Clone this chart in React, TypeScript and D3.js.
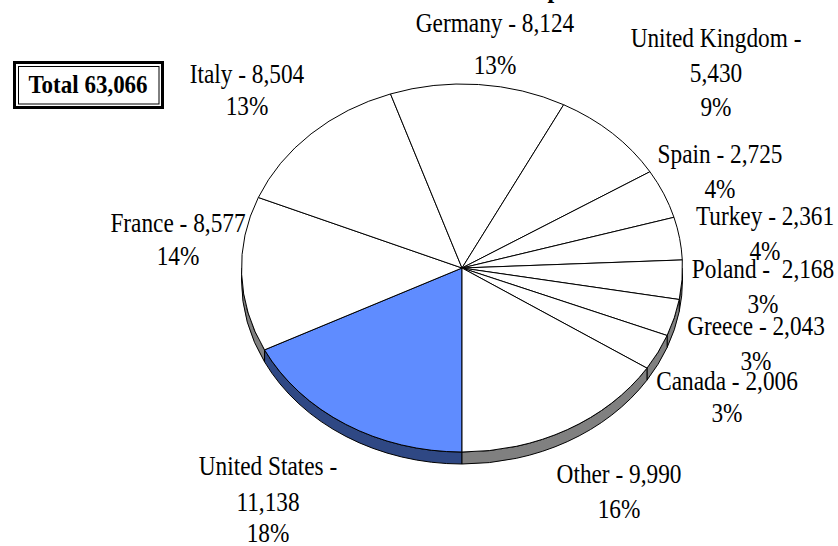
import React, { useEffect, useRef } from 'react';
import * as d3 from 'd3';

const countries = ['United States', 'France', 'Italy', 'Germany', 'United Kingdom', 'Spain', 'Turkey', 'Poland', 'Greece', 'Canada', 'Other'];
const arrivals = [11138, 8577, 8504, 8124, 5430, 2725, 2361, 2168, 2043, 2006, 9990];
const highlighted = ['United States'];
const wrapped = ['United States', 'United Kingdom'];
const chartTitle = 'Total Exports';

// label spots as Excel left them: centre x, then baseline of each line
const labelSpots = [
    { x: 268, ys: [475, 511, 542] },
    { x: 178, ys: [232, 265] },
    { x: 247, ys: [83, 115] },
    { x: 495, ys: [32, 74] },
    { x: 716, ys: [47, 82, 116] },
    { x: 720, ys: [163, 198] },
    { x: 765, ys: [225, 260] },
    { x: 763, ys: [278, 313] },
    { x: 756, ys: [335, 370] },
    { x: 727, ys: [390, 422] },
    { x: 619, ys: [483, 518] },
];

const PieChart3D = () => {
    const ref = useRef<SVGSVGElement>(null);

    useEffect(() => {
        const width = 838, height = 546;
        const cx = 462, cy = 268, rx = 220.5, ry = 184, depth = 12;
        const font = '"Liberation Serif", "Times New Roman", serif';

        const svg = d3.select(ref.current);
        svg.selectAll('*').remove();
        svg.attr('width', width).attr('height', height);

        const total = d3.sum(arrivals);
        const fmt = d3.format(',');
        const pct = d3.format('.0%');

        const pie = d3.pie<number>().sort(null).startAngle(Math.PI).endAngle(3 * Math.PI);
        const arcs = pie(arrivals);

        const px = (a: number) => cx + rx * Math.sin(a);
        const py = (a: number) => cy - ry * Math.cos(a);

        // side walls, only the front half of the pie shows them
        const front = [[Math.PI, 1.5 * Math.PI], [2.5 * Math.PI, 3 * Math.PI]];
        const walls: { path: string; hi: boolean }[] = [];
        arcs.forEach((d, i) => {
            front.forEach(([f0, f1]) => {
                const s = Math.max(d.startAngle, f0), e = Math.min(d.endAngle, f1);
                if (e <= s) return;
                const path = `M${px(s)},${py(s)}A${rx},${ry} 0 0 1 ${px(e)},${py(e)}` +
                    `L${px(e)},${py(e) + depth}A${rx},${ry} 0 0 0 ${px(s)},${py(s) + depth}Z`;
                walls.push({ path, hi: highlighted.includes(countries[i]) });
            });
        });

        svg.append('g').selectAll('path')
            .data(walls)
            .enter()
            .append('path')
            .attr('d', d => d.path)
            .attr('fill', d => d.hi ? '#2f4884' : '#808080')
            .attr('stroke', '#000')
            .attr('stroke-width', 1);

        const arcGen = d3.arc<d3.PieArcDatum<number>>().innerRadius(0).outerRadius(rx);
        svg.append('g')
            .attr('transform', `translate(${cx},${cy}) scale(1,${ry / rx})`)
            .selectAll('path')
            .data(arcs)
            .enter()
            .append('path')
            .attr('d', arcGen)
            .attr('fill', (d, i) => highlighted.includes(countries[i]) ? '#5f8cff' : '#fff')
            .attr('stroke', '#000')
            .attr('stroke-width', 1)
            .attr('vector-effect', 'non-scaling-stroke');

        // data labels
        const labels = svg.append('g').attr('font-family', font).attr('font-size', 23.3).attr('fill', '#000');
        countries.forEach((c, i) => {
            const v = fmt(arrivals[i]);
            let lines: string[];
            if (wrapped.includes(c)) lines = [`${c} -`, v];
            else if (c === 'Poland') lines = [`${c} -  ${v}`];
            else lines = [`${c} - ${v}`];
            lines.push(pct(arrivals[i] / total));
            const spot = labelSpots[i];
            lines.forEach((t, j) => {
                labels.append('text')
                    .attr('transform', `translate(${spot.x},${spot.ys[j]}) scale(1,1.16)`)
                    .attr('text-anchor', 'middle')
                    .style('white-space', 'pre')
                    .text(t);
            });
        });

        // title, mostly above the page edge
        svg.append('text')
            .attr('transform', 'translate(461,-3.5) scale(1,1.16)')
            .attr('font-family', font)
            .attr('font-weight', 'bold')
            .attr('font-size', 24)
            .text(chartTitle);

        // total box
        const box = svg.append('g');
        box.append('rect').attr('x', 14.5).attr('y', 62.5).attr('width', 148).attr('height', 45)
            .attr('fill', '#fff').attr('stroke', '#000').attr('stroke-width', 3);
        box.append('rect').attr('x', 18.5).attr('y', 66.5).attr('width', 140.5).attr('height', 37.5)
            .attr('fill', 'none').attr('stroke', '#000').attr('stroke-width', 1);
        box.append('text')
            .attr('transform', 'translate(88,93) scale(1,1.12)')
            .attr('text-anchor', 'middle')
            .attr('font-family', font)
            .attr('font-weight', 'bold')
            .attr('font-size', 23)
            .text(`Total ${fmt(total)}`);
    }, []);

    return <svg ref={ref} style={{ position: 'absolute', left: 0, top: 0, background: '#fff' }} />;
};

export default function App() {
    return <PieChart3D />;
}
